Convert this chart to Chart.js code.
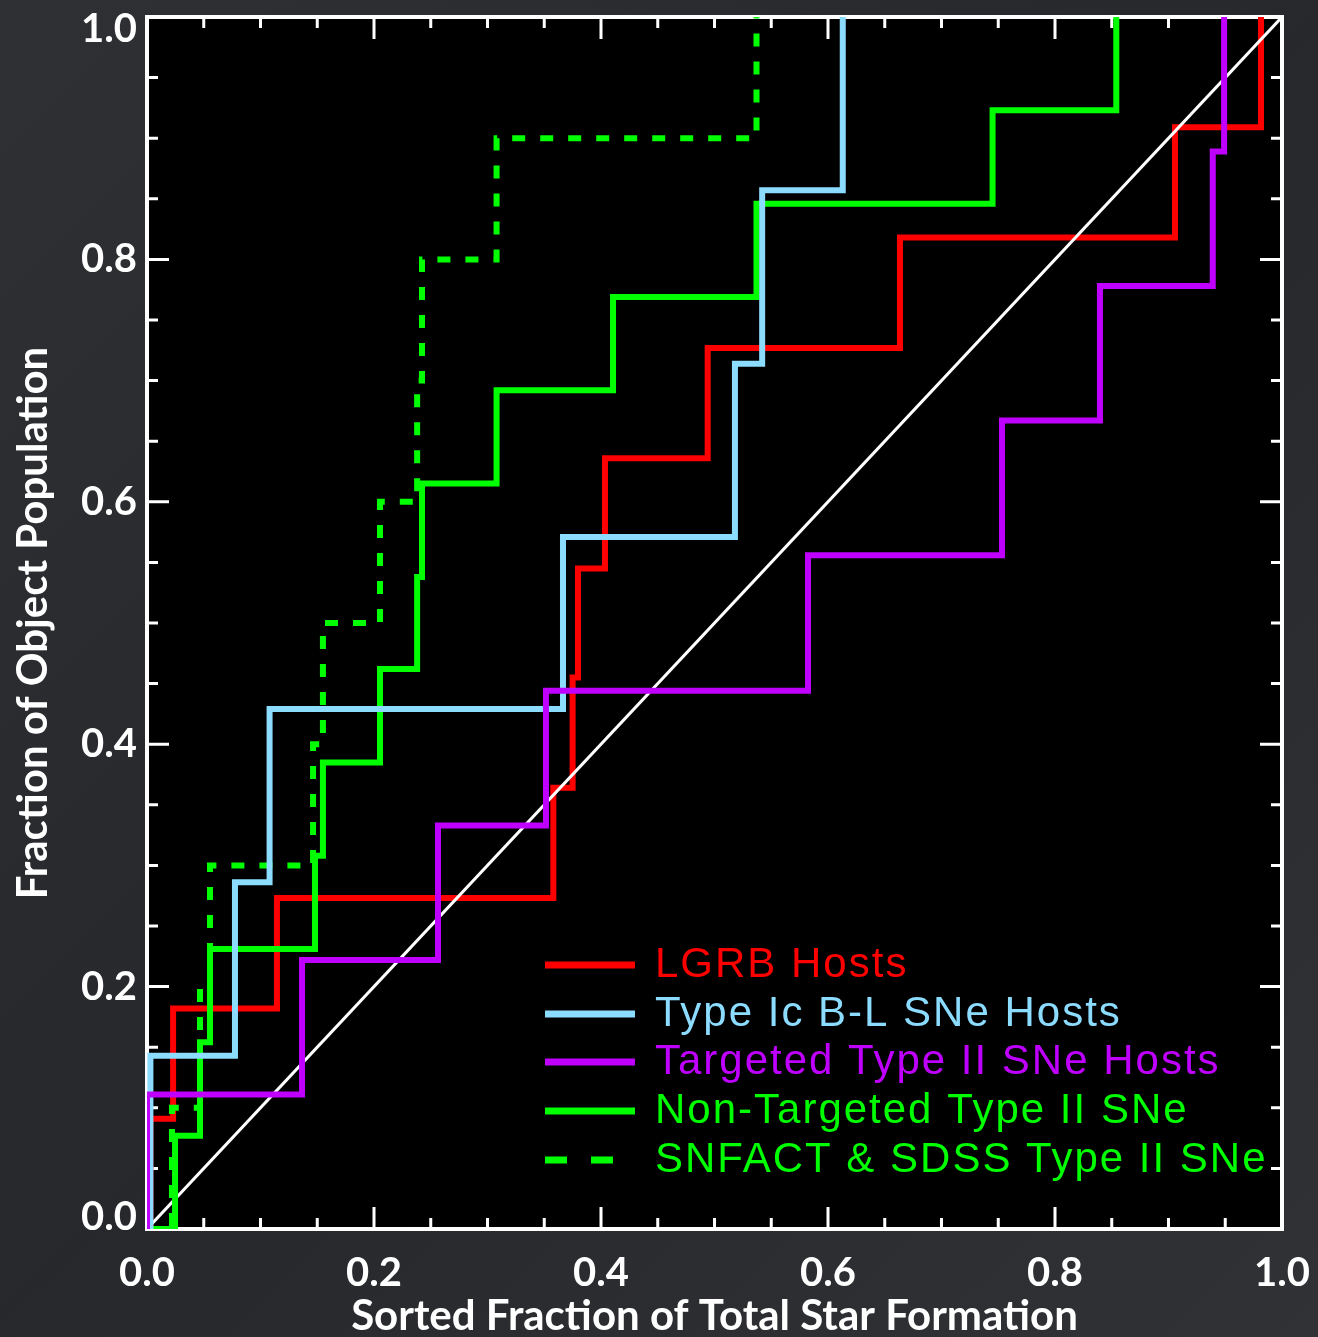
<!DOCTYPE html>
<html>
<head>
<meta charset="utf-8">
<script src="https://cdn.jsdelivr.net/npm/chart.js@4.4.1/dist/chart.umd.min.js"></script>
<style>
  html, body { margin: 0; padding: 0; background: #2a2c2f; }
  #wrap { width: 1318px; height: 1337px; position: relative; }
</style>
</head>
<body>
<div id="wrap"><canvas id="grafico"></canvas></div>
<script>
// cumulative distributions: sorted fraction of total SF (x) vs fraction of objects (y)
const lgrbX = [0, 0.003, 0.023, 0.1145, 0.358, 0.375, 0.3797, 0.4035, 0.494, 0.6634, 0.9057, 0.9815];
const lgrbY = [0, 0.091, 0.182, 0.273, 0.364, 0.455, 0.545, 0.636, 0.727, 0.818, 0.909, 1.0];

const icblX = [0, 0.003, 0.0775, 0.108, 0.3665, 0.518, 0.542, 0.613];
const icblY = [0, 0.143, 0.286, 0.429, 0.571, 0.714, 0.857, 1.0];

const targX = [0, 0, 0.1366, 0.2564, 0.3515, 0.5824, 0.7533, 0.8396, 0.939, 0.949];
const targY = [0, 0.111, 0.222, 0.333, 0.444, 0.556, 0.667, 0.778, 0.889, 1.0];

const nontargX = [0, 0.0247, 0.0467, 0.0555, 0.148, 0.155, 0.2053, 0.238, 0.2423, 0.308, 0.4106, 0.537, 0.745, 0.854];
const nontargY = [0, 0.077, 0.154, 0.231, 0.308, 0.385, 0.462, 0.538, 0.615, 0.692, 0.769, 0.846, 0.923, 1.0];

const snfactX = [0, 0.022, 0.0467, 0.0555, 0.1463, 0.155, 0.2053, 0.238, 0.2423, 0.308, 0.537];
const snfactY = [0, 0.1, 0.2, 0.3, 0.4, 0.5, 0.6, 0.7, 0.8, 0.9, 1.0];

const diagX = [0, 1];
const diagY = [0, 1];

const tickVals = [0, 0.2, 0.4, 0.6, 0.8, 1.0];

const nombres = [
  "LGRB Hosts",
  "Type Ic B-L SNe Hosts",
  "Targeted Type II SNe Hosts",
  "Non-Targeted Type II SNe",
  "SNFACT & SDSS Type II SNe",
];
const colores = ["#ff0000", "#8cdcff", "#bf00ff", "#00ff00", "#00ff00"];

function puntos(xs, ys) {
  return xs.map((x, i) => ({ x: x, y: ys[i] }));
}

// frame, inward ticks, background and the legend box
const marco = {
  id: "marco",
  beforeDraw(chart) {
    const { ctx, chartArea: a } = chart;
    ctx.save();
    let g = ctx.createLinearGradient(0, 0, chart.width, chart.height);
    g.addColorStop(0, "#2e3033");
    g.addColorStop(0.5, "#26282b");
    g.addColorStop(1, "#303235");
    ctx.fillStyle = g;
    ctx.fillRect(0, 0, chart.width, chart.height);
    ctx.fillStyle = "#000000";
    ctx.fillRect(a.left, a.top, a.right - a.left, a.bottom - a.top);
    ctx.restore();

    // pull the 0.0 and 1.0 labels of the y axis inside the frame
    const items = chart.scales.y.getLabelItems();
    if (items.length && !items[0].movido) {
      items[0].options.translation[1] -= 12;
      items[items.length - 1].options.translation[1] += 12;
      items[0].movido = true;
    }
  },
  beforeDatasetsDraw(chart) {
    const { ctx, chartArea: a, scales } = chart;
    ctx.save();
    ctx.strokeStyle = "#ffffff";
    ctx.lineWidth = 3;
    for (let k = 0; k <= 20; k++) {
      let v = k * 0.05;
      let largo = k % 4 == 0 ? 22 : 11;
      let px = scales.x.getPixelForValue(v);
      let py = scales.y.getPixelForValue(v);
      ctx.beginPath();
      ctx.moveTo(px, a.bottom);
      ctx.lineTo(px, a.bottom - largo);
      ctx.moveTo(px, a.top);
      ctx.lineTo(px, a.top + largo);
      ctx.moveTo(a.left, py);
      ctx.lineTo(a.left + largo, py);
      ctx.moveTo(a.right, py);
      ctx.lineTo(a.right - largo, py);
      ctx.stroke();
    }
    ctx.lineWidth = 4;
    ctx.strokeRect(a.left, a.top, a.right - a.left, a.bottom - a.top);
    ctx.restore();
  },
  afterDraw(chart) {
    const ctx = chart.ctx;
    const filas = [965, 1014, 1062, 1111, 1160];
    ctx.save();
    ctx.font = "42px 'Liberation Sans'";
    ctx.letterSpacing = "2px";
    ctx.textBaseline = "middle";
    ctx.textAlign = "left";
    for (let i = 0; i < nombres.length; i++) {
      ctx.strokeStyle = colores[i];
      ctx.lineWidth = 7;
      ctx.setLineDash(i == 4 ? [22, 24] : []);
      ctx.beginPath();
      ctx.moveTo(545, filas[i]);
      ctx.lineTo(635, filas[i]);
      ctx.stroke();
      ctx.fillStyle = colores[i];
      ctx.fillText(nombres[i], 655, filas[i]);
    }
    ctx.restore();
  },
};

let ctx = document.getElementById("grafico").getContext("2d");
let grafico = new Chart(ctx, {
  type: "scatter",
  data: {
    datasets: [
      {
        label: nombres[2],
        data: puntos(targX, targY),
        borderColor: colores[2],
        borderWidth: 6,
        stepped: "before",
        order: 0,
      },
      {
        label: nombres[1],
        data: puntos(icblX, icblY),
        borderColor: colores[1],
        borderWidth: 6,
        stepped: "before",
        order: 1,
      },
      {
        label: nombres[3],
        data: puntos(nontargX, nontargY),
        borderColor: colores[3],
        borderWidth: 6,
        stepped: "before",
        order: 2,
      },
      {
        label: nombres[4],
        data: puntos(snfactX, snfactY),
        borderColor: colores[4],
        borderWidth: 6,
        borderDash: [13, 15],
        stepped: "before",
        order: 3,
      },
      {
        label: "1:1",
        data: puntos(diagX, diagY),
        borderColor: "#ffffff",
        borderWidth: 3,
        order: 4,
      },
      {
        label: nombres[0],
        data: puntos(lgrbX, lgrbY),
        borderColor: colores[0],
        borderWidth: 6,
        stepped: "before",
        order: 5,
      },
    ],
  },
  options: {
    responsive: true,
    maintainAspectRatio: false,
    animation: false,
    showLine: true,
    elements: { point: { radius: 0 }, line: { borderCapStyle: "butt", borderJoinStyle: "miter" } },
    layout: { padding: { top: 17, right: 36, left: 0, bottom: 0 } },
    plugins: { legend: { display: false }, tooltip: { enabled: false } },
    scales: {
      x: {
        type: "linear",
        min: 0,
        max: 1,
        afterBuildTicks: (s) => { s.ticks = tickVals.map((v) => ({ value: v })); },
        afterFit: (s) => {
          s.height = 108;
          s.paddingLeft = 0;
          s.paddingRight = 0;
        },
        grid: { display: false, drawTicks: false },
        border: { display: false },
        ticks: {
          color: "#ffffff",
          padding: 20,
          maxRotation: 0,
          font: { family: "Lato", size: 40, weight: "bold" },
          callback: (v) => Number(v).toFixed(1),
        },
        title: {
          display: true,
          text: "Sorted Fraction of Total Star Formation",
          color: "#ffffff",
          font: { family: "Lato", size: 42, weight: "bold", lineHeight: 1 },
          padding: { top: 0, bottom: 0 },
        },
      },
      y: {
        type: "linear",
        min: 0,
        max: 1,
        afterBuildTicks: (s) => { s.ticks = tickVals.map((v) => ({ value: v })); },
        afterFit: (s) => {
          s.width = 147;
          s.paddingTop = 0;
          s.paddingBottom = 0;
        },
        grid: { display: false, drawTicks: false },
        border: { display: false },
        ticks: {
          color: "#ffffff",
          padding: 10,
          font: { family: "Lato", size: 40, weight: "bold" },
          callback: (v) => Number(v).toFixed(1),
        },
        title: {
          display: true,
          text: "Fraction of Object Population",
          color: "#ffffff",
          font: { family: "Lato", size: 42, weight: "bold", lineHeight: 1 },
          padding: { top: 12, bottom: 0 },
        },
      },
    },
  },
  plugins: [marco],
});
</script>
</body>
</html>
